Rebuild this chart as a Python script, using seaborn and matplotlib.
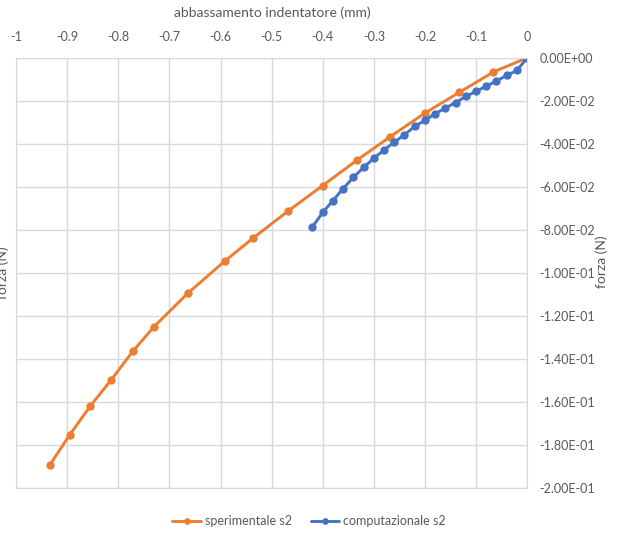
import seaborn as sns
import pandas as pd
import matplotlib
matplotlib.use("Agg")
from matplotlib import pyplot as plt
from matplotlib.ticker import FuncFormatter, MultipleLocator

# spostamento (mm) e forza (N)
sper_x = [-0.934, -0.895, -0.855, -0.814, -0.771, -0.730, -0.664, -0.592,
          -0.537, -0.468, -0.400, -0.333, -0.268, -0.200, -0.133, -0.066, 0.0]
sper_y = [-0.1893, -0.1753, -0.1620, -0.1498, -0.1363, -0.1250, -0.1095, -0.0946,
          -0.0840, -0.0713, -0.0594, -0.0476, -0.0367, -0.0257, -0.0161, -0.0066, 0.0]

comp_x = [-0.42, -0.40, -0.38, -0.36, -0.34, -0.32, -0.30, -0.28, -0.26, -0.24, -0.22,
          -0.20, -0.18, -0.16, -0.14, -0.12, -0.10, -0.08, -0.06, -0.04, -0.02, 0.0]
comp_y = [-0.0786, -0.0719, -0.0664, -0.0608, -0.0556, -0.0510, -0.0467, -0.0429,
          -0.0392, -0.0358, -0.0319, -0.0291, -0.0260, -0.0234, -0.0208, -0.0180,
          -0.0156, -0.0132, -0.0108, -0.0082, -0.0059, 0.0]

serie = ["sperimentale s2", "computazionale s2"]
colori = ["#ED7D31", "#4472C4"]

df = pd.concat([
    pd.DataFrame({"x": sper_x, "y": sper_y, "serie": serie[0]}),
    pd.DataFrame({"x": comp_x, "y": comp_y, "serie": serie[1]}),
])

sns.set_style("white")
plt.rcParams["font.family"] = ["Lato", "DejaVu Sans"]
grey = "#595959"

fig = plt.figure(figsize=(6.18, 5.35), dpi=100)
ax = fig.add_axes([0.026, 0.088, 0.827, 0.804])

sns.lineplot(data=df, x="x", y="y", hue="serie", palette=dict(zip(serie, colori)),
             marker="o", markersize=6, markeredgewidth=0, linewidth=2.1,
             sort=False, estimator=None, ax=ax)

ax.set_xlim(-1, 0)
ax.set_ylim(-0.2, 0)
ax.xaxis.set_major_locator(MultipleLocator(0.1))
ax.yaxis.set_major_locator(MultipleLocator(0.02))
ax.xaxis.set_major_formatter(FuncFormatter(lambda v, p: f"{round(v, 1):g}"))
ax.yaxis.set_major_formatter(FuncFormatter(lambda v, p: f"{round(v, 3) + 0.0:.2E}"))
ax.xaxis.tick_top()
ax.yaxis.tick_right()
ax.tick_params(length=0, labelsize=9, colors=grey)
ax.tick_params(axis="x", pad=11)
ax.tick_params(axis="y", pad=9)
ax.grid(True, color="#d9d9d9", linewidth=1)
for s in ax.spines.values():
    s.set_color("#d9d9d9")

ax.set_xlabel("")
ax.set_ylabel("")
fig.text(0.44, 0.976, "abbassamento indentatore (mm)", ha="center", va="center",
         fontsize=10, color=grey)
fig.text(0.974, 0.51, "forza (N)", rotation=90, ha="center", va="center",
         fontsize=10, color=grey)
fig.text(0.004, 0.49, "forza (N)", rotation=90, ha="center", va="center",
         fontsize=10, color=grey)

ax.legend(loc="center", bbox_to_anchor=(0.5, 0.026), bbox_transform=fig.transFigure,
          ncol=2, frameon=False, fontsize=9, labelcolor=grey, handlelength=2.3,
          columnspacing=1.5, handletextpad=0.3, markerscale=0.8)

plt.savefig("out.png", dpi=100)
